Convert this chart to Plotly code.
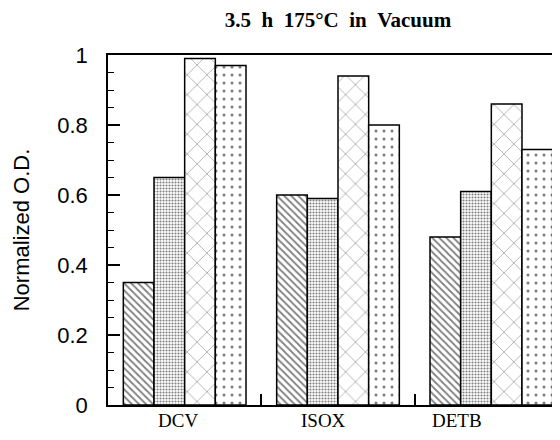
import plotly.graph_objects as go

# ---- data ----
categories = ["DCV", "ISOX", "DETB"]
series_hatch = [0.35, 0.60, 0.48]
series_stipple = [0.65, 0.59, 0.61]
series_dash = [0.99, 0.94, 0.86]
series_caret = [0.97, 0.80, 0.73]
y_tickvals = [0, 0.2, 0.4, 0.6, 0.8, 1]
y_ticktext = ["0", "0.2", "0.4", "0.6", "0.8", "1"]

title_text = "3.5\u00a0\u00a0h\u00a0\u00a0175\u00b0C\u00a0\u00a0in\u00a0\u00a0Vacuum"

# ---- styles ----
patterns = [
    dict(shape="\\", fgcolor="black", bgcolor="white", size=5, solidity=0.35),
    dict(shape=".", fgcolor="black", bgcolor="white", size=3, solidity=0.4),
    dict(shape="x", fgcolor="black", bgcolor="white", size=14, solidity=0.08),
    dict(shape=".", fgcolor="black", bgcolor="white", size=8, solidity=0.12),
]
label_shift = [-7, -15, -34]

fig = go.Figure()
for vals, pat in zip([series_hatch, series_stipple, series_dash, series_caret], patterns):
    fig.add_trace(go.Bar(
        x=categories, y=vals,
        marker=dict(color="white", pattern=pat, line=dict(color="black", width=1.5)),
        showlegend=False,
    ))

for cat, dx in zip(categories, label_shift):
    fig.add_annotation(
        x=cat, xref="x", y=0, yref="paper", yanchor="top", yshift=-3, xshift=dx,
        text=cat, showarrow=False,
        font=dict(family="Liberation Serif", size=19, color="black"),
    )

fig.update_layout(
    width=560, height=440,
    margin=dict(l=100, r=0, t=47, b=43),
    paper_bgcolor="white", plot_bgcolor="white",
    barmode="group", bargap=0.2, bargroupgap=0,
    title=dict(
        text="<b>" + title_text + "</b>",
        font=dict(family="Liberation Serif", size=21, color="black"),
        x=0.5, xref="paper", xanchor="center",
        y=1 - 12 / 440, yref="container", yanchor="middle",
    ),
)

fig.update_xaxes(
    type="category", range=[-0.5, 2.5],
    showline=True, linecolor="black", linewidth=1.5, mirror=True,
    ticks="inside", tickson="boundaries", ticklen=11, tickcolor="black", tickwidth=1.5,
    showticklabels=False, showgrid=False, zeroline=False,
)
fig.update_yaxes(
    range=[0, 1], tickvals=y_tickvals, ticktext=y_ticktext,
    showline=True, linecolor="black", linewidth=1.5, mirror=False,
    ticks="inside", ticklen=12, tickcolor="black", tickwidth=1.5,
    minor=dict(dtick=0.05, tick0=0, ticks="inside", ticklen=6, tickcolor="black", tickwidth=1),
    ticklabelstandoff=14,
    tickfont=dict(family="Liberation Sans", size=22, color="black"),
    title=dict(text="Normalized O.D.", font=dict(family="Liberation Sans", size=22, color="black"), standoff=22),
    showgrid=False, zeroline=False,
)

fig.write_html("out.html")
